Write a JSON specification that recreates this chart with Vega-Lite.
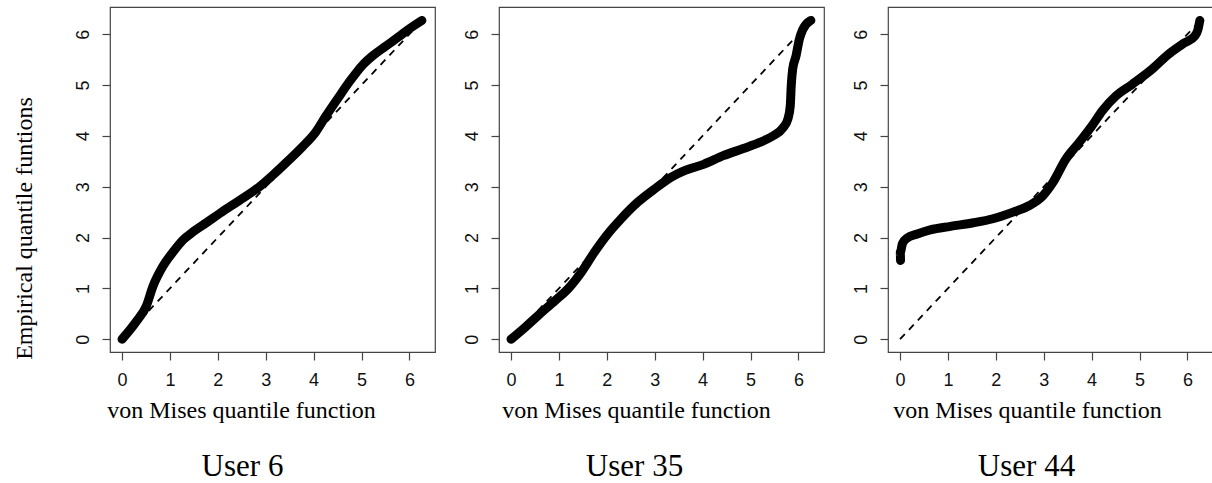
{
  "$schema": "https://vega.github.io/schema/vega-lite/v6.json",
  "autosize": {"type": "pad"},
  "padding": {"left": 11, "top": 6, "right": 0, "bottom": 0},
  "background": "white",
  "config": {
    "view": {"stroke": "#444444", "strokeWidth": 1.2},
    "axis": {
      "domain": false,
      "grid": false,
      "ticks": true,
      "tickColor": "#444444",
      "tickSize": 8,
      "tickWidth": 1.2,
      "labelFont": "Arial",
      "labelColor": "#111111",
      "titleFont": "Liberation Serif",
      "titleFontSize": 24,
      "titleFontWeight": "normal",
      "titleColor": "#000000"
    },
    "title": {"font": "Liberation Serif", "fontSize": 31, "fontWeight": "normal", "color": "#000000"},
    "concat": {"spacing": 64}
  },
  "datasets": {
    "curves": [
      {"panel": "User 6", "i": 1, "x": 0.0, "y": 0.0},
      {"panel": "User 6", "i": 2, "x": 0.3, "y": 0.35},
      {"panel": "User 6", "i": 3, "x": 0.51, "y": 0.66},
      {"panel": "User 6", "i": 4, "x": 0.645, "y": 1.04},
      {"panel": "User 6", "i": 5, "x": 0.85, "y": 1.43},
      {"panel": "User 6", "i": 6, "x": 1.06, "y": 1.71},
      {"panel": "User 6", "i": 7, "x": 1.27, "y": 1.95},
      {"panel": "User 6", "i": 8, "x": 1.48, "y": 2.11},
      {"panel": "User 6", "i": 9, "x": 1.76, "y": 2.29},
      {"panel": "User 6", "i": 10, "x": 2.05, "y": 2.48},
      {"panel": "User 6", "i": 11, "x": 2.45, "y": 2.73},
      {"panel": "User 6", "i": 12, "x": 2.87, "y": 3.0},
      {"panel": "User 6", "i": 13, "x": 3.14, "y": 3.22},
      {"panel": "User 6", "i": 14, "x": 3.49, "y": 3.53},
      {"panel": "User 6", "i": 15, "x": 3.77, "y": 3.79},
      {"panel": "User 6", "i": 16, "x": 4.04, "y": 4.07},
      {"panel": "User 6", "i": 17, "x": 4.25, "y": 4.38},
      {"panel": "User 6", "i": 18, "x": 4.53, "y": 4.77},
      {"panel": "User 6", "i": 19, "x": 4.76, "y": 5.08},
      {"panel": "User 6", "i": 20, "x": 5.02, "y": 5.39},
      {"panel": "User 6", "i": 21, "x": 5.24, "y": 5.58},
      {"panel": "User 6", "i": 22, "x": 5.5, "y": 5.76},
      {"panel": "User 6", "i": 23, "x": 5.78, "y": 5.95},
      {"panel": "User 6", "i": 24, "x": 5.99, "y": 6.1},
      {"panel": "User 6", "i": 25, "x": 6.26, "y": 6.27},

      {"panel": "User 35", "i": 1, "x": 0.0, "y": 0.0},
      {"panel": "User 35", "i": 2, "x": 0.3, "y": 0.24},
      {"panel": "User 35", "i": 3, "x": 0.57, "y": 0.47},
      {"panel": "User 35", "i": 4, "x": 0.92, "y": 0.76},
      {"panel": "User 35", "i": 5, "x": 1.19, "y": 0.99},
      {"panel": "User 35", "i": 6, "x": 1.47, "y": 1.32},
      {"panel": "User 35", "i": 7, "x": 1.74, "y": 1.71},
      {"panel": "User 35", "i": 8, "x": 2.02, "y": 2.07},
      {"panel": "User 35", "i": 9, "x": 2.3, "y": 2.37},
      {"panel": "User 35", "i": 10, "x": 2.64, "y": 2.69},
      {"panel": "User 35", "i": 11, "x": 2.99, "y": 2.95},
      {"panel": "User 35", "i": 12, "x": 3.33, "y": 3.18},
      {"panel": "User 35", "i": 13, "x": 3.61, "y": 3.31},
      {"panel": "User 35", "i": 14, "x": 4.02, "y": 3.44},
      {"panel": "User 35", "i": 15, "x": 4.43, "y": 3.61},
      {"panel": "User 35", "i": 16, "x": 4.85, "y": 3.75},
      {"panel": "User 35", "i": 17, "x": 5.19, "y": 3.87},
      {"panel": "User 35", "i": 18, "x": 5.47, "y": 4.0},
      {"panel": "User 35", "i": 19, "x": 5.68, "y": 4.16},
      {"panel": "User 35", "i": 20, "x": 5.78, "y": 4.33},
      {"panel": "User 35", "i": 21, "x": 5.83, "y": 4.59},
      {"panel": "User 35", "i": 22, "x": 5.85, "y": 4.98},
      {"panel": "User 35", "i": 23, "x": 5.88, "y": 5.31},
      {"panel": "User 35", "i": 24, "x": 5.95, "y": 5.57},
      {"panel": "User 35", "i": 25, "x": 6.02, "y": 5.9},
      {"panel": "User 35", "i": 26, "x": 6.09, "y": 6.09},
      {"panel": "User 35", "i": 27, "x": 6.26, "y": 6.27},

      {"panel": "User 44", "i": 1, "x": 0.01, "y": 1.55},
      {"panel": "User 44", "i": 2, "x": 0.005, "y": 1.71},
      {"panel": "User 44", "i": 3, "x": 0.05, "y": 1.88},
      {"panel": "User 44", "i": 4, "x": 0.15, "y": 1.99},
      {"panel": "User 44", "i": 5, "x": 0.36, "y": 2.07},
      {"panel": "User 44", "i": 6, "x": 0.63, "y": 2.15},
      {"panel": "User 44", "i": 7, "x": 1.05, "y": 2.22},
      {"panel": "User 44", "i": 8, "x": 1.53, "y": 2.29},
      {"panel": "User 44", "i": 9, "x": 1.94, "y": 2.37},
      {"panel": "User 44", "i": 10, "x": 2.36, "y": 2.5},
      {"panel": "User 44", "i": 11, "x": 2.7, "y": 2.63},
      {"panel": "User 44", "i": 12, "x": 2.98, "y": 2.82},
      {"panel": "User 44", "i": 13, "x": 3.19, "y": 3.08},
      {"panel": "User 44", "i": 14, "x": 3.46, "y": 3.54},
      {"panel": "User 44", "i": 15, "x": 3.74, "y": 3.87},
      {"panel": "User 44", "i": 16, "x": 4.01, "y": 4.2},
      {"panel": "User 44", "i": 17, "x": 4.22, "y": 4.49},
      {"panel": "User 44", "i": 18, "x": 4.5, "y": 4.78},
      {"panel": "User 44", "i": 19, "x": 4.84, "y": 5.01},
      {"panel": "User 44", "i": 20, "x": 5.26, "y": 5.31},
      {"panel": "User 44", "i": 21, "x": 5.6, "y": 5.6},
      {"panel": "User 44", "i": 22, "x": 5.94, "y": 5.83},
      {"panel": "User 44", "i": 23, "x": 6.15, "y": 5.96},
      {"panel": "User 44", "i": 24, "x": 6.22, "y": 6.09},
      {"panel": "User 44", "i": 25, "x": 6.26, "y": 6.27}
    ],
    "diag": [
      {"x": 0, "y": 0},
      {"x": 6.2832, "y": 6.2832}
    ]
  },
  "bounds": "flush",
  "hconcat": [
    {
      "width": 325, "height": 345,
      "title": {"text": "User 6", "orient": "bottom", "anchor": "middle", "dx": -30, "offset": 54, "baseline": "alphabetic"},
      "encoding": {
        "x": {"field": "x", "type": "quantitative", "scale": {"domain": [-0.2513, 6.5345], "nice": false, "zero": false},
          "axis": {"title": "von Mises quantile function", "values": [0,1,2,3,4,5,6], "labelFontSize": 18, "labelPadding": 11, "titleX": 131, "titleY": 65, "titleAnchor": "middle", "titleAlign": "center", "titleBaseline": "alphabetic"}},
        "y": {"field": "y", "type": "quantitative", "scale": {"domain": [-0.2513, 6.5345], "nice": false, "zero": false},
          "axis": {"title": "Empirical quantile funtions", "values": [0,1,2,3,4,5,6], "labelFontSize": 18, "labelAngle": -90, "labelAlign": "center", "labelBaseline": "bottom", "labelPadding": 10, "titleX": -86, "titleY": 221, "titleAngle": -90, "titleAlign": "center", "titleBaseline": "middle"}}
      },
      "layer": [
        {
          "data": {"name": "diag"},
          "mark": {"type": "line", "color": "#000000", "strokeWidth": 1.8, "strokeDash": [7, 6], "clip": true}
        },
        {
          "data": {"name": "curves"},
          "transform": [{"filter": "datum.panel === 'User 6'"}],
          "mark": {"type": "line", "color": "#000000", "strokeWidth": 9, "strokeCap": "round", "strokeJoin": "round", "interpolate": "monotone"},
          "encoding": {"order": {"field": "i", "type": "quantitative"}}
        }
      ]
    },
    {
      "width": 325, "height": 345,
      "title": {"text": "User 35", "orient": "bottom", "anchor": "middle", "dx": -27, "offset": 54, "baseline": "alphabetic"},
      "encoding": {
        "x": {"field": "x", "type": "quantitative", "scale": {"domain": [-0.2513, 6.5345], "nice": false, "zero": false},
          "axis": {"title": "von Mises quantile function", "values": [0,1,2,3,4,5,6], "labelFontSize": 18, "labelPadding": 11, "titleX": 137, "titleY": 65, "titleAnchor": "middle", "titleAlign": "center", "titleBaseline": "alphabetic"}},
        "y": {"field": "y", "type": "quantitative", "scale": {"domain": [-0.2513, 6.5345], "nice": false, "zero": false},
          "axis": {"title": null, "values": [0,1,2,3,4,5,6], "labelFontSize": 18, "labelAngle": -90, "labelAlign": "center", "labelBaseline": "bottom", "labelPadding": 10}}
      },
      "layer": [
        {
          "data": {"name": "diag"},
          "mark": {"type": "line", "color": "#000000", "strokeWidth": 1.8, "strokeDash": [7, 6], "clip": true}
        },
        {
          "data": {"name": "curves"},
          "transform": [{"filter": "datum.panel === 'User 35'"}],
          "mark": {"type": "line", "color": "#000000", "strokeWidth": 9, "strokeCap": "round", "strokeJoin": "round", "interpolate": "monotone"},
          "encoding": {"order": {"field": "i", "type": "quantitative"}}
        }
      ]
    },
    {
      "width": 325, "height": 345,
      "title": {"text": "User 44", "orient": "bottom", "anchor": "middle", "dx": -24, "offset": 54, "baseline": "alphabetic"},
      "encoding": {
        "x": {"field": "x", "type": "quantitative", "scale": {"domain": [-0.2513, 6.5345], "nice": false, "zero": false},
          "axis": {"title": "von Mises quantile function", "values": [0,1,2,3,4,5,6], "labelFontSize": 18, "labelPadding": 11, "titleX": 139, "titleY": 65, "titleAnchor": "middle", "titleAlign": "center", "titleBaseline": "alphabetic"}},
        "y": {"field": "y", "type": "quantitative", "scale": {"domain": [-0.2513, 6.5345], "nice": false, "zero": false},
          "axis": {"title": null, "values": [0,1,2,3,4,5,6], "labelFontSize": 18, "labelAngle": -90, "labelAlign": "center", "labelBaseline": "bottom", "labelPadding": 10}}
      },
      "layer": [
        {
          "data": {"name": "diag"},
          "mark": {"type": "line", "color": "#000000", "strokeWidth": 1.8, "strokeDash": [7, 6], "clip": true}
        },
        {
          "data": {"name": "curves"},
          "transform": [{"filter": "datum.panel === 'User 44'"}],
          "mark": {"type": "line", "color": "#000000", "strokeWidth": 9, "strokeCap": "round", "strokeJoin": "round", "interpolate": "monotone"},
          "encoding": {"order": {"field": "i", "type": "quantitative"}}
        }
      ]
    }
  ]
}
